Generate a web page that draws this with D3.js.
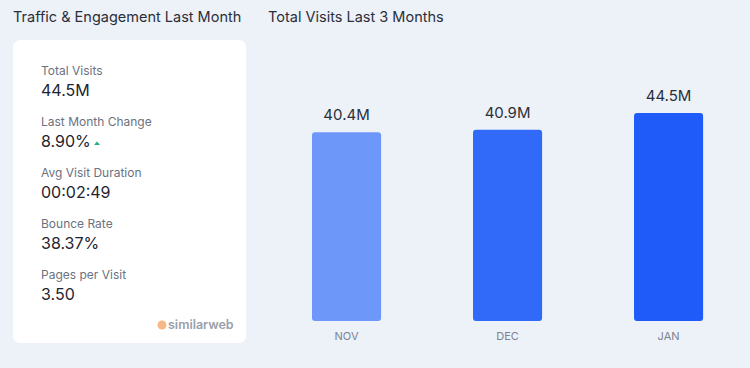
<!DOCTYPE html>
<html lang="en">
<head>
    <meta charset="UTF-8">
    <title>Traffic & Engagement</title>
    <script src="https://d3js.org/d3.v7.min.js"></script>
    <style>
        body { margin: 0; background: #edf1f8; }
        svg text { font-family: "Inter", "Noto Sans", sans-serif; }
    </style>
</head>
<body>
    <svg width="750" height="368"></svg>
    <script>
        // data
        const months = ["NOV", "DEC", "JAN"];
        const visits = [40.4, 40.9, 44.5];
        const visitLabels = ["40.4M", "40.9M", "44.5M"];
        const barColors = ["#6d98fa", "#3169f9", "#1f5bf9"];

        const metricNames = ["Total Visits", "Last Month Change", "Avg Visit Duration", "Bounce Rate", "Pages per Visit"];
        const metricValues = ["44.5M", "8.90%", "00:02:49", "38.37%", "3.50"];

        const svg = d3.select("svg");

        svg.append("rect").attr("width", 750).attr("height", 368).attr("fill", "#edf1f8");

        // titles
        svg.append("text").attr("x", 13).attr("y", 22).attr("font-size", 14.5)
            .attr("fill", "#2a2f3a").text("Traffic & Engagement Last Month");
        svg.append("text").attr("x", 268).attr("y", 22).attr("font-size", 14.5)
            .attr("fill", "#2a2f3a").text("Total Visits Last 3 Months");

        // left card
        svg.append("rect").attr("x", 13).attr("y", 40).attr("width", 233).attr("height", 303)
            .attr("rx", 7).attr("fill", "#ffffff");

        const rows = d3.scaleLinear().domain([0, 1]).range([75, 126]);
        metricNames.forEach((name, i) => {
            svg.append("text").attr("x", 41).attr("y", rows(i)).attr("font-size", 12)
                .attr("fill", "#6b7280").text(name);
            svg.append("text").attr("x", 41).attr("y", rows(i) + 21).attr("font-size", 16)
                .attr("fill", "#1f2430").text(metricValues[i]);
        });

        // up arrow for change
        svg.append("path").attr("d", "M94,145 L97,141.5 L100,145 Z").attr("fill", "#27b07d");

        // similarweb logo
        svg.append("circle").attr("cx", 162).attr("cy", 325).attr("r", 4.5).attr("fill", "#f5a66a").attr("opacity", 0.8);
        svg.append("text").attr("x", 168).attr("y", 329).attr("font-size", 12.5).attr("font-weight", 600)
            .attr("fill", "#9aa0aa").text("similarweb");

        // bar chart
        const x = d3.scaleBand().domain(months).range([263.7, 751.4]).paddingInner(0.571).paddingOuter(0.3);
        const y = d3.scaleLinear().domain([0, d3.max(visits)]).range([321, 113]);

        const bars = svg.append("g");
        bars.selectAll("rect").data(months).join("rect")
            .attr("x", d => x(d))
            .attr("y", (d, i) => y(visits[i]))
            .attr("width", x.bandwidth())
            .attr("height", (d, i) => y(0) - y(visits[i]))
            .attr("rx", 3)
            .attr("fill", (d, i) => barColors[i]);

        bars.selectAll("text.val").data(months).join("text")
            .attr("class", "val")
            .attr("x", d => x(d) + x.bandwidth() / 2)
            .attr("y", (d, i) => y(visits[i]) - 12)
            .attr("text-anchor", "middle")
            .attr("font-size", 15)
            .attr("fill", "#2a2f3a")
            .text((d, i) => visitLabels[i]);

        const axis = svg.append("g").attr("transform", "translate(0,321)")
            .call(d3.axisBottom(x).tickSize(0).tickPadding(11));
        axis.select(".domain").remove();
        axis.selectAll("text").attr("font-size", 11).attr("fill", "#7c8390")
            .style("font-family", "Inter, 'Noto Sans', sans-serif");
    </script>
</body>
</html>
